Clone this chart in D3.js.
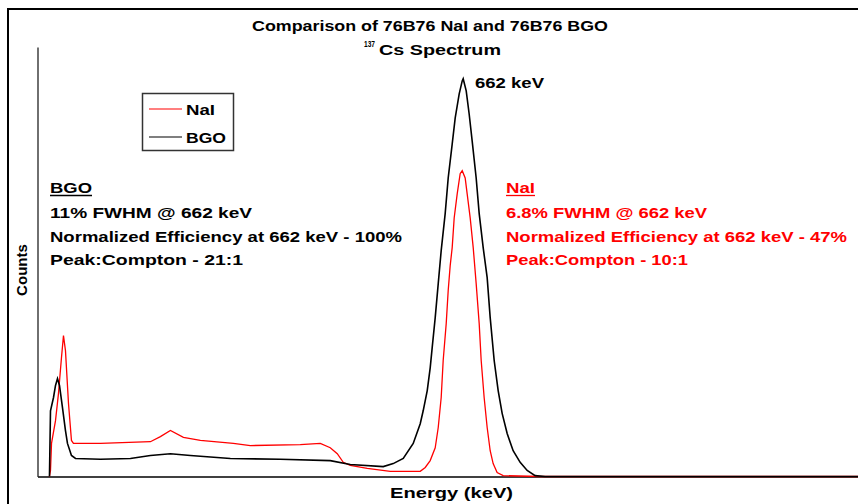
<!DOCTYPE html>
<html>
<head>
<meta charset="utf-8">
<script src="https://cdn.jsdelivr.net/npm/d3@7"></script>
<style>
  html, body { margin: 0; padding: 0; background: #fff; }
  svg { display: block; }
  text { font-family: "Liberation Sans", Arial, sans-serif; font-weight: bold; }
  .narrow { font-family: "Liberation Sans Narrow", "Arial Narrow", "Liberation Sans", Arial, sans-serif; }
</style>
</head>
<body>
<svg id="chart" width="858" height="504"></svg>
<script>
// ---- data (energy in keV, counts in arbitrary units) ----
const energyBGO = [18.6,20.2,24.9,28,31.1,34.2,38.9,43.5,46.6,52.8,59.1,97.9,144.5,175.6,206.7,237.8,299.9,377.6,455.3,486.4,537.7,553.2,568.8,584.3,595.2,599.8,606.1,610.7,613.8,618.5,623.2,627.8,634,638.7,644.9,649.6,655.8,660.5,662,666.7,671.3,676,682.2,686.9,693.1,699.3,704,710.2,716.4,722.6,730.4,739.7,750.6,761.5,773.9,789.4,1276];
const countsBGO = [0,153,184,212,228,212,160,107,77,49,42,40,42,49,53,49,42,40,37,28,23,30,42,77,123,153,200,253,300,370,449,526,612,695,774,835,891,921,926,898,844,781,695,612,533,463,370,270,200,147,100,60,33,14,2,0,0];
const energyNaI = [18.6,20.2,21.8,28,32.6,37.3,40.4,43.5,48.2,52.8,55.9,97.9,175.6,191.1,206.7,226.9,253.3,304.6,331,408.7,439.8,455.3,466.2,475.5,486.4,512.8,548.6,595.2,603,610.7,618.5,623.2,627.8,630.9,635.6,638.7,641.8,644.9,648,652.7,657.3,660.5,665.1,668.2,672.9,677.6,682.2,686.9,690,694.6,699.3,704,708.6,714.8,724.2,781.7,1276];
const countsNaI = [0,14,77,130,193,277,328,293,170,84,77,77,81,93,107,91,84,77,72,74,77,67,53,33,26,19,12,12,21,37,67,114,184,270,356,433,491,533,602,658,705,712,695,658,602,533,449,356,270,184,114,60,30,9,2,0,0];

const seriesNames = ["NaI", "BGO"];
const seriesColors = ["#ff0000", "#000000"];
const titleText = "Comparison of 76B76 NaI and 76B76 BGO";
const subtitleSup = "137";
const subtitleText = "Cs Spectrum";
const peakLabel = "662 keV";
const xLabel = "Energy (keV)";
const yLabel = "Counts";
const bgoNotes = ["BGO", "11% FWHM @ 662 keV", "Normalized Efficiency at 662 keV - 100%", "Peak:Compton - 21:1"];
const naiNotes = ["NaI", "6.8% FWHM @ 662 keV", "Normalized Efficiency at 662 keV - 47%", "Peak:Compton - 10:1"];

// ---- drawing ----
const svg = d3.select("#chart");

// outer frame (only top & left visible)
svg.append("rect").attr("x", 8).attr("y", 9).attr("width", 900).attr("height", 600)
  .attr("fill", "none").attr("stroke", "#000").attr("stroke-width", 2);

const x = d3.scaleLinear().domain([0, 1276]).range([37.5, 858]);
const y = d3.scaleLinear().domain([0, 1000]).range([476.5, 47]);

svg.append("g").attr("transform", "translate(0,476.5)")
  .call(d3.axisBottom(x).ticks(0).tickSizeOuter(0))
  .call(g => g.select(".domain").attr("stroke", "#000").attr("stroke-width", 1.6));
svg.append("g").attr("transform", "translate(37.5,0)")
  .call(d3.axisLeft(y).ticks(0).tickSizeOuter(0))
  .call(g => g.select(".domain").attr("stroke", "#222").attr("stroke-width", 1.3));

const line = d3.line().x(d => x(d[0])).y(d => y(d[1]));
const nai = energyNaI.map((e, i) => [e, countsNaI[i]]);
const bgo = energyBGO.map((e, i) => [e, countsBGO[i]]);

svg.append("path").datum(nai).attr("d", line).attr("fill", "none")
  .attr("stroke", seriesColors[0]).attr("stroke-width", 1.3);
svg.append("path").datum(bgo).attr("d", line).attr("fill", "none")
  .attr("stroke", seriesColors[1]).attr("stroke-width", 1.6);

// titles
svg.append("text").attr("class", "narrow").attr("x", 252).attr("y", 31).attr("font-size", 15)
  .attr("textLength", 356).attr("lengthAdjust", "spacingAndGlyphs").text(titleText);
svg.append("text").attr("class", "narrow").attr("x", 364).attr("y", 47).attr("font-size", 8.5)
  .attr("textLength", 11).attr("lengthAdjust", "spacingAndGlyphs").text(subtitleSup);
svg.append("text").attr("class", "narrow").attr("x", 379).attr("y", 55).attr("font-size", 15)
  .attr("textLength", 122).attr("lengthAdjust", "spacingAndGlyphs").text(subtitleText);

// peak label
svg.append("text").attr("x", 475).attr("y", 88).attr("font-size", 14)
  .attr("textLength", 69).attr("lengthAdjust", "spacingAndGlyphs").text(peakLabel);

// axis labels
svg.append("text").attr("x", 390).attr("y", 498).attr("font-size", 15)
  .attr("textLength", 123).attr("lengthAdjust", "spacingAndGlyphs").text(xLabel);
svg.append("text").attr("transform", "translate(27,296) rotate(-90)").attr("font-size", 14)
  .attr("textLength", 52).attr("lengthAdjust", "spacingAndGlyphs").text(yLabel);

// legend
const lg = svg.append("g");
lg.append("rect").attr("x", 142.5).attr("y", 93.5).attr("width", 91).attr("height", 57)
  .attr("fill", "#fff").attr("stroke", "#333").attr("stroke-width", 1.5);
const legendY = [109, 137];
const legendW = [29, 40];
seriesNames.forEach((n, i) => {
  lg.append("line").attr("x1", 149).attr("x2", 182).attr("y1", legendY[i]).attr("y2", legendY[i])
    .attr("stroke", seriesColors[i]).attr("stroke-width", 1.2);
  lg.append("text").attr("x", 186).attr("y", legendY[i] + 5.5).attr("font-size", 14.5)
    .attr("textLength", legendW[i]).attr("lengthAdjust", "spacingAndGlyphs").text(n);
});

// notes
const noteBaselines = [193, 218, 242, 265];
const bgoWidths = [42, 202, 352, 193];
const naiWidths = [29, 201, 341, 182];
function notes(list, widths, x0, color) {
  list.forEach((t, i) => {
    svg.append("text").attr("x", x0).attr("y", noteBaselines[i]).attr("font-size", 14)
      .attr("fill", color).attr("textLength", widths[i]).attr("lengthAdjust", "spacingAndGlyphs")
      .text(t);
  });
  svg.append("line").attr("x1", x0).attr("x2", x0 + widths[0]).attr("y1", noteBaselines[0] + 2.5)
    .attr("y2", noteBaselines[0] + 2.5).attr("stroke", color).attr("stroke-width", 1.3);
}
notes(bgoNotes, bgoWidths, 50, "#000");
notes(naiNotes, naiWidths, 506, "#ff0000");
</script>
</body>
</html>
